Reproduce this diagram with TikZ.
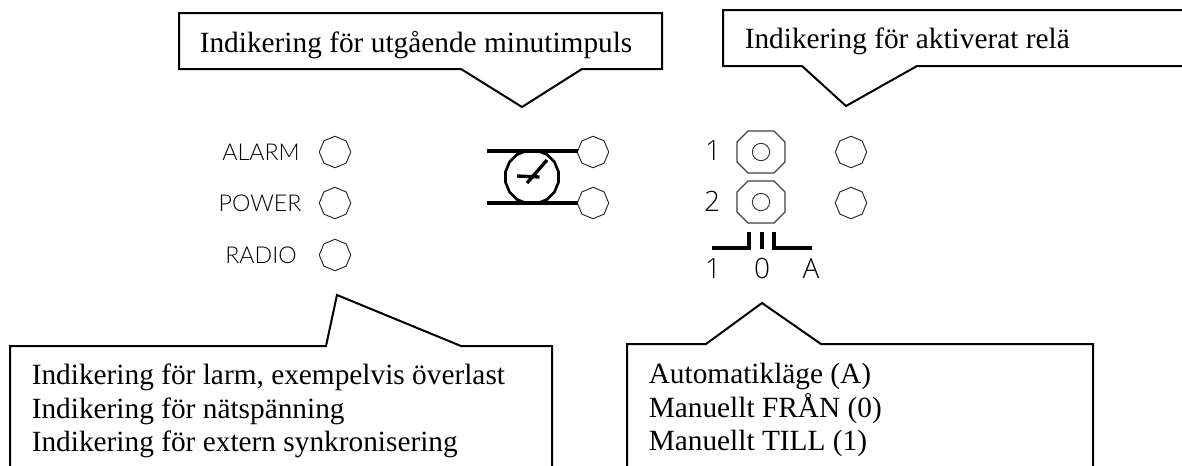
\documentclass[tikz,border=0pt]{standalone}
\usepackage{fontspec}
\usetikzlibrary{shapes.geometric}
\setmainfont{Liberation Serif}
\newfontfamily\cadfont[UprightFont=* Light]{Lato}
\newfontfamily\caddigit[UprightFont=* Light]{Open Sans}
\begin{document}
\begin{tikzpicture}[x=0.75pt,y=-0.75pt,
  callout/.style={draw=black,line width=1.5pt,line join=miter,fill=white},
  calltext/.style={anchor=base west,inner sep=0pt,font=\fontsize{22}{25}\selectfont},
  led/.style={shape=regular polygon,regular polygon sides=8,shape border rotate=22.5,minimum size=23.6pt,inner sep=0pt,draw=black!85,line width=0.7pt},
  heavy/.style={draw=black,line width=2.5pt},
  thinl/.style={draw=black!75,line width=0.9pt},
  cad/.style={inner sep=0pt,font=\cadfont\fontsize{17.4}{19}\selectfont},
  cadbig/.style={inner sep=0pt,font=\caddigit\fontsize{21}{24}\selectfont}]
\useasboundingbox (0,0) rectangle (1182,465);
% top callouts
\draw[callout] (179,13) -- (662,13) -- (662,69) -- (582,69) -- (522,107) -- (461,69) -- (179,69) -- cycle;
\node[calltext] (t1) at (199.5,52) {Indikering för utgående minutimpuls};
\draw[callout] (1183,10) -- (723,10) -- (723,66) -- (802,66) -- (846,106) -- (917,66) -- (1183,66);
\node[calltext] (t2) at (744.5,48) {Indikering för aktiverat relä};
% bottom callouts
\draw[callout] (10,466) -- (10,346) -- (326,346) -- (337,295) -- (461,346) -- (552,346) -- (552,466);
\node[calltext] (t3) at (31.5,384) {Indikering för larm, exempelvis överlast};
\node[calltext] (t4) at (31.5,418) {Indikering för nätspänning};
\node[calltext] (t5) at (31.5,451.5) {Indikering för extern synkronisering};
\draw[callout] (627,466) -- (627,344) -- (706,344) -- (762,303) -- (821,344) -- (1093,344) -- (1093,466);
\node[calltext] (t6) at (648.5,383) {Automatikläge (A)};
\node[calltext] (t7) at (648.5,417) {Manuellt FRÅN (0)};
\node[calltext] (t8) at (648.5,450) {Manuellt TILL (1)};
% left labels and lamps
\node[cad] (l1) at (261,152) {ALARM};
\node[cad] (l2) at (260,203) {POWER};
\node[cad] (l3) at (261,255) {RADIO};
\node[led] (a) at (335,152) {};
\node[led] (b) at (335,203) {};
\node[led] (c) at (335,255) {};
% clock
\node[led] (d) at (593,152) {};
\node[led] (e) at (593,203) {};
\node[led] (f) at (851,152) {};
\node[led] (g) at (851,203) {};
\coordinate (d0) at (487,151);
\coordinate (d1) at (577.5,151);
\coordinate (e0) at (487,203);
\coordinate (e1) at (577.5,203);
\draw[heavy] (d0) -- (d1);
\draw[heavy] (e0) -- (e1);
\node[shape=regular polygon,regular polygon sides=16,minimum size=40.5pt,inner sep=0pt,draw=black,line width=2pt] (clock) at (532,177) {};
\coordinate (h1) at (517,176);
\coordinate (h2) at (539.5,177);
\coordinate (m1) at (527,183);
\coordinate (m2) at (547,160);
\draw[heavy] (h1) -- (h2);
\draw[heavy] (m1) -- (m2);
% buttons
\foreach \nm/\y in {s1/152,s2/202}{
  \coordinate (\nm) at (761,\y);
  \draw[thinl] (\nm) ++(-13,-21) -- ++(26,0) -- ++(11,11) -- ++(0,20) -- ++(-11,11) -- ++(-26,0) -- ++(-11,-11) -- ++(0,-20) -- cycle;
  \node[circle,draw=black!80,line width=0.7pt,minimum size=13pt,inner sep=0pt] (\nm c) at (\nm) {};
}
\node[cadbig] (n1) at (713,151) {1};
\node[cadbig] (n2) at (712,201) {2};
% switch
\coordinate (w1) at (749,232);
\coordinate (w2) at (712,248);
\coordinate (w3) at (762,232);
\coordinate (w4) at (762,249);
\coordinate (w5) at (774,232);
\coordinate (w6) at (812,248);
\draw[heavy] (w2) -| (w1);
\draw[heavy] (w3) -- (w4);
\draw[heavy] (w6) -| (w5);
\node[cadbig] (p1) at (713,268) {1};
\node[cadbig] (p0) at (762,268) {0};
\node[cadbig] (pa) at (811,268) {A};
\end{tikzpicture}
\end{document}
